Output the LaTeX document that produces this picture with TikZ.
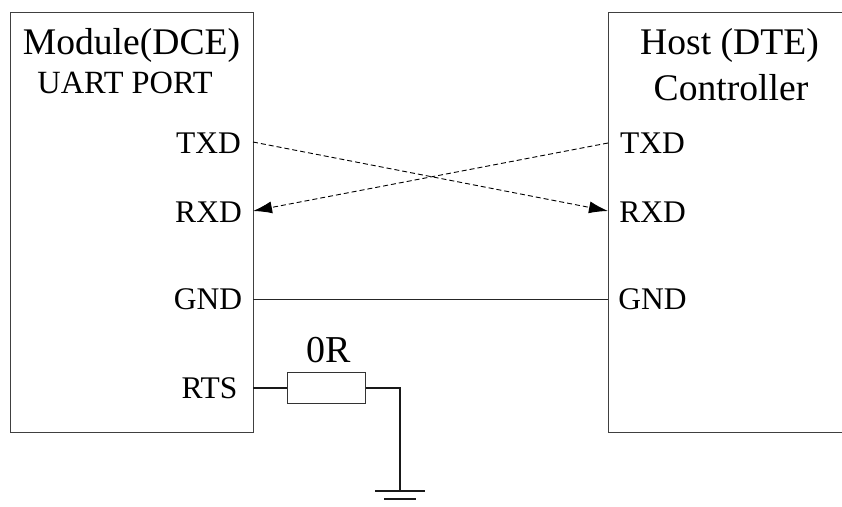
\documentclass[tikz,border=0pt]{standalone}
\usepackage{fontspec}
\setmainfont{Liberation Serif}
\usetikzlibrary{arrows.meta}
\begin{document}
\begin{tikzpicture}[x=1pt,y=-1pt,
  boxline/.style={draw=black!75,line width=1pt},
  wire/.style={draw=black!85,line width=0.9pt},
  power/.style={draw=black!90,line width=1.9pt},
  signal/.style={draw=black,line width=0.9pt,dash pattern=on 5pt off 3pt,-{Latex[length=19pt,width=12pt]}},
  big/.style={inner sep=0pt,anchor=base,font=\fontsize{37.6}{37.6}\selectfont},
  port/.style={inner sep=0pt,anchor=base,font=\fontsize{31.5}{31.5}\selectfont}]
\useasboundingbox (0,0) rectangle (842,506);
% boxes
\node[boxline,minimum width=243pt,minimum height=420pt,inner sep=0pt,anchor=north west] (module) at (10,12) {};
\draw[boxline] (842,12) -- (608,12) -- (608,432) -- (842,432);
% labels
\node[big] (mtitle) at (131.5,54) {Module(DCE)};
\node[port,font=\fontsize{32.4}{32.4}\selectfont] (mport) at (125,93) {UART PORT};
\node[big] (htitle) at (729.5,54) {Host (DTE)};
\node[big] (hctrl) at (731,100) {Controller};
\node[port] (mtxd) at (208.5,153) {TXD};
\node[port] (mrxd) at (208.5,222) {RXD};
\node[port] (mgnd) at (208,309) {GND};
\node[port] (mrts) at (209.5,398) {RTS};
\node[port] (htxd) at (652.5,153) {TXD};
\node[port] (hrxd) at (652.5,222) {RXD};
\node[port] (hgnd) at (652.5,309) {GND};
% anchor points on the box edges
\coordinate (aTX) at (253,142);
\coordinate (aRX) at (253,211);
\coordinate (aGND) at (253,299);
\coordinate (aRTS) at (253,388);
\coordinate (bTX) at (608,143);
\coordinate (bRX) at (608,211);
\coordinate (bGND) at (608,299);
% signals
\draw[signal] (aTX) -- (bRX);
\draw[signal] (bTX) -- (aRX);
\draw[wire] (aGND) -- (bGND);
% resistor
\node[draw=black!80,line width=1pt,minimum width=78pt,minimum height=31pt,inner sep=0pt] (res) at (326,388) {};
\node[big,font=\fontsize{38}{38}\selectfont] (rlabel) at (328.5,362) {0R};
\coordinate (corner) at (400,388);
\coordinate (gnd) at (400,491);
\coordinate (g1l) at (375,491);
\coordinate (g1r) at (425,491);
\coordinate (g2l) at (384,499);
\coordinate (g2r) at (416,499);
\draw[power] (aRTS) -- (res.west);
\draw[power] (res.east) -- (corner) -- (gnd);
\draw[power] (g1l) -- (g1r);
\draw[power] (g2l) -- (g2r);
\end{tikzpicture}
\end{document}
